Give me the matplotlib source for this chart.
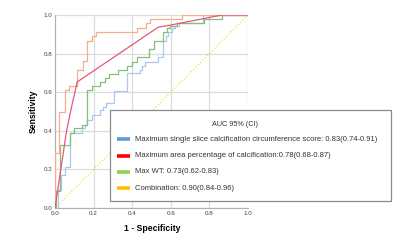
import matplotlib
matplotlib.use("Agg")
import matplotlib.pyplot as plt
from matplotlib.patches import Rectangle
from matplotlib.lines import Line2D

plt.rcParams['font.family'] = ['Liberation Sans', 'DejaVu Sans']

# ROC corners (step curves drawn with steps-post)
blue_fpr = [0, 0.017, 0.031, 0.052, 0.078, 0.138, 0.155, 0.167, 0.19, 0.233, 0.25, 0.264,
            0.306, 0.375, 0.44, 0.45, 0.466, 0.535, 0.561, 0.575, 0.587, 0.605, 0.62, 0.64,
            0.768, 1.0]
blue_tpr = [0, 0.093, 0.171, 0.214, 0.387, 0.413, 0.43, 0.456, 0.482, 0.508, 0.522, 0.542,
            0.608, 0.698, 0.715, 0.736, 0.758, 0.78, 0.867, 0.89, 0.912, 0.933, 0.945, 0.957,
            1.0, 1.0]

green_fpr = [0, 0.005, 0.026, 0.078, 0.098, 0.138, 0.167, 0.19, 0.233, 0.259, 0.281, 0.328,
             0.375, 0.397, 0.423, 0.489, 0.513, 0.561, 0.579, 0.596, 0.63, 0.772, 0.864, 1.0]
green_tpr = [0, 0.088, 0.326, 0.39, 0.413, 0.43, 0.611, 0.632, 0.654, 0.675, 0.694, 0.715,
             0.736, 0.758, 0.781, 0.824, 0.867, 0.912, 0.933, 0.945, 0.957, 0.978, 1.0, 1.0]

combo_fpr = [0, 0, 0.022, 0.052, 0.07, 0.114, 0.143, 0.166, 0.19, 0.212, 0.423, 0.47, 0.49,
             0.656, 1.0]
combo_tpr = [0, 0.285, 0.50, 0.61, 0.63, 0.715, 0.76, 0.867, 0.89, 0.912, 0.933, 0.957, 0.98,
             1.0, 1.0]

# area percentage curve is drawn as straight segments
area_fpr = [0, 0.03, 0.06, 0.085, 0.115, 0.535, 0.6, 0.865, 1.0]
area_tpr = [0, 0.2, 0.4, 0.52, 0.653, 0.937, 0.948, 1.0, 1.0]

ticks = [0.0, 0.2, 0.4, 0.6, 0.8, 1.0]

legend_title = "AUC 95% (CI)"
legend_labels = [
    "Maximum single slice calcification circumference score: 0.83(0.74-0.91)",
    "Maximum area percentage of calcification:0.78(0.68-0.87)",
    "Max WT: 0.73(0.62-0.83)",
    "Combination: 0.90(0.84-0.96)",
]
legend_colors = ['#5b9bd5', '#ff0000', '#92d050', '#ffc000']

fig = plt.figure(figsize=(4.0, 2.42), dpi=100)
ax = fig.add_axes([0.1375, 0.1405, 0.4825, 0.7975])

ax.plot([0, 1], [0, 1], color='#f0de4a', lw=0.9, linestyle=':', zorder=2)
ax.plot(blue_fpr, blue_tpr, drawstyle='steps-post', color='#a9c9f2', lw=0.9, zorder=3)
ax.plot(green_fpr, green_tpr, drawstyle='steps-post', color='#82c07a', lw=0.9, zorder=3)
ax.plot(area_fpr, area_tpr, color='#e8557c', lw=0.9, zorder=4)
ax.plot(combo_fpr, combo_tpr, drawstyle='steps-post', color='#f9ac88', lw=0.9, zorder=3)

ax.set_xlim(0, 1)
ax.set_ylim(0, 1)
ax.set_xticks(ticks)
ax.set_yticks(ticks)
ax.set_xticklabels([f"{t:.1f}" for t in ticks])
ax.set_yticklabels([f"{t:.1f}" for t in ticks])
ax.tick_params(length=0, labelsize=4.5, colors='#404040', pad=2)
ax.grid(True, color='#dcdcdc', lw=0.9)
ax.set_axisbelow(True)
for side in ['top', 'right']:
    ax.spines[side].set_visible(False)
for side in ['left', 'bottom']:
    ax.spines[side].set_color('#b0b0b0')
    ax.spines[side].set_linewidth(0.8)

fig.text(0.38, 0.054, "1 - Specificity", ha='center', va='center',
         fontsize=6.2, fontweight='bold')
fig.text(0.0825, 0.54, "Sensitivity", ha='center', va='center', rotation=90,
         fontsize=6.2, fontweight='bold')

# legend box
box = Rectangle((0.275, 0.1694), 0.7025, 0.3761, transform=fig.transFigure,
                facecolor='white', edgecolor='#8a8a8a', lw=0.9, zorder=10)
fig.patches.append(box)
fig.text(0.5875, 0.4876, legend_title, ha='center', va='center', fontsize=5.2,
         color='#333333', zorder=11)
for i, (lab, col) in enumerate(zip(legend_labels, legend_colors)):
    yy = 1 - (139.3 + i * 16.3) / 242
    fig.lines.append(Line2D([0.2925, 0.325], [yy, yy], transform=fig.transFigure,
                            color=col, lw=2.6, solid_capstyle='butt', zorder=11))
    fig.text(0.3375, yy, lab, ha='left', va='center', fontsize=5.5,
             color='#333333', zorder=11)

fig.savefig("out.png", dpi=100)
